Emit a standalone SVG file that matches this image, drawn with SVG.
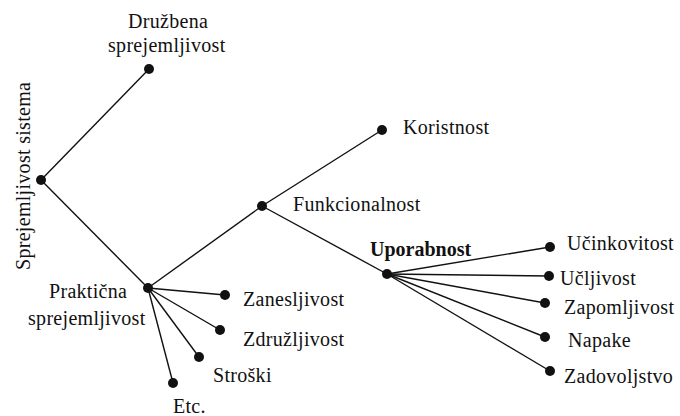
<svg xmlns="http://www.w3.org/2000/svg" width="680" height="416" viewBox="0 0 680 416">
<style>
text{font-family:"Liberation Serif","Times New Roman",serif;font-size:20px;fill:#111;letter-spacing:0.3px}
.b{font-weight:bold;letter-spacing:0}
line{stroke:#111;stroke-width:1.4}
circle{fill:#111}
</style>
<rect width="680" height="416" fill="#fff"/>
<g id="connectors">
<line x1="41" y1="180" x2="149" y2="69"/>
<line x1="41" y1="180" x2="148" y2="288"/>
<line x1="148" y1="288" x2="262" y2="206"/>
<line x1="262" y1="206" x2="382" y2="130"/>
<line x1="262" y1="206" x2="387" y2="274"/>
<line x1="148" y1="288" x2="225" y2="295"/>
<line x1="148" y1="288" x2="220" y2="330"/>
<line x1="148" y1="288" x2="199" y2="357"/>
<line x1="148" y1="288" x2="173" y2="383"/>
<line x1="387" y1="274" x2="550" y2="247"/>
<line x1="387" y1="274" x2="549" y2="276"/>
<line x1="387" y1="274" x2="545" y2="303"/>
<line x1="387" y1="274" x2="545" y2="337"/>
<line x1="387" y1="274" x2="550" y2="371"/>
</g>
<g id="root"><circle cx="41" cy="180" r="5"/><text transform="translate(30,270) rotate(-90)">Sprejemljivost sistema</text></g>
<g id="druzbena"><circle cx="149" cy="69" r="5"/><text x="128" y="28">Družbena</text><text x="108" y="52">sprejemljivost</text></g>
<g id="prakticna"><circle cx="148" cy="288" r="5"/><text x="49" y="298">Praktična</text><text x="28" y="325">sprejemljivost</text></g>
<g id="funkcionalnost"><circle cx="262" cy="206" r="5"/><text x="293" y="211">Funkcionalnost</text></g>
<g id="koristnost"><circle cx="382" cy="130" r="5"/><text x="403" y="134">Koristnost</text></g>
<g id="uporabnost"><circle cx="387" cy="274" r="5"/><text class="b" x="370" y="256">Uporabnost</text></g>
<g id="ucinkovitost"><circle cx="550" cy="247" r="5"/><text x="567" y="250">Učinkovitost</text></g>
<g id="ucljivost"><circle cx="549" cy="276" r="5"/><text x="560" y="285">Učljivost</text></g>
<g id="zapomljivost"><circle cx="545" cy="303" r="5"/><text x="564" y="314">Zapomljivost</text></g>
<g id="napake"><circle cx="545" cy="337" r="5"/><text x="568" y="347">Napake</text></g>
<g id="zadovoljstvo"><circle cx="550" cy="371" r="5"/><text x="564" y="383">Zadovoljstvo</text></g>
<g id="zanesljivost"><circle cx="225" cy="295" r="5"/><text x="243" y="306">Zanesljivost</text></g>
<g id="zdruzljivost"><circle cx="220" cy="330" r="5"/><text x="243" y="346">Združljivost</text></g>
<g id="stroski"><circle cx="199" cy="357" r="5"/><text x="213" y="382">Stroški</text></g>
<g id="etc"><circle cx="173" cy="383" r="5"/><text x="173" y="413">Etc.</text></g>
</svg>
